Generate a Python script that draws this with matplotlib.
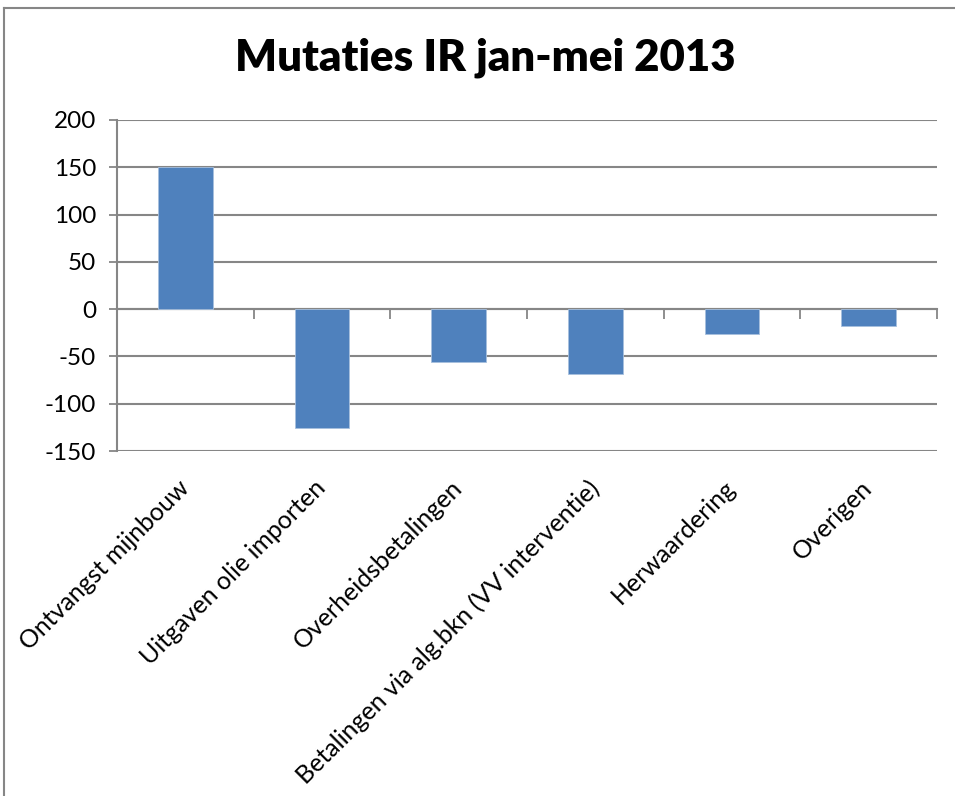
import matplotlib.pyplot as plt
from matplotlib.lines import Line2D
import numpy as np

categories = [
    "Ontvangst mijnbouw",
    "Uitgaven olie importen",
    "Overheidsbetalingen",
    "Betalingen via alg.bkn (VV interventie)",
    "Herwaardering",
    "Overigen",
]
values = [150, -126, -56, -69, -26, -18]
y_ticks = [-150, -100, -50, 0, 50, 100, 150, 200]

BAR = "#4f81bd"
GRID = "#868686"

plt.rcParams["font.family"] = ["Lato", "DejaVu Sans"]

fig = plt.figure(figsize=(9.55, 7.96), dpi=100)
ax = fig.add_axes([117 / 955, 1 - 451 / 796, 820 / 955, 331 / 796])

x = np.arange(len(categories))
ax.bar(x, values, width=0.40, color=BAR, edgecolor="#a7c0de", linewidth=0.6, zorder=3)

ax.set_xlim(-0.5, len(categories) - 0.5)
ax.set_ylim(-150, 200)
ax.set_yticks(y_ticks)
ax.set_yticklabels([str(v) for v in y_ticks], fontsize=17.5)
ax.yaxis.grid(True, color=GRID, linewidth=1.5)
ax.set_axisbelow(True)
ax.tick_params(axis="y", direction="out", length=6, width=1.3, color=GRID, pad=9)

for side in ("top", "right"):
    ax.spines[side].set_visible(False)
ax.spines["left"].set_color(GRID)
ax.spines["left"].set_linewidth(1.5)
ax.spines["bottom"].set_position(("data", 0))
ax.spines["bottom"].set_color(GRID)
ax.spines["bottom"].set_linewidth(1.5)
ax.set_xticks(np.arange(len(categories) + 1) - 0.5)
ax.set_xticklabels([])
ax.tick_params(axis="x", direction="out", length=7, width=1.3, color=GRID)

trans = ax.get_xaxis_transform()
for xi, name in zip(x, categories):
    ax.text(xi - 0.06, -0.075, name, transform=trans, rotation=45,
            rotation_mode="anchor", ha="right", va="top", fontsize=18)

fig.text(485 / 955, 1 - 58 / 796, "Mutaties IR jan-mei 2013", ha="center", va="center",
         fontsize=31.5, fontweight="heavy")

# chart frame (top and left edges visible)
fig.add_artist(Line2D([4 / 955, 1.0], [1 - 8 / 796, 1 - 8 / 796], color=GRID, linewidth=1.5,
                      transform=fig.transFigure))
fig.add_artist(Line2D([4 / 955, 4 / 955], [0, 1 - 8 / 796], color=GRID, linewidth=1.5,
                      transform=fig.transFigure))

fig.savefig("out.png", dpi=100)
